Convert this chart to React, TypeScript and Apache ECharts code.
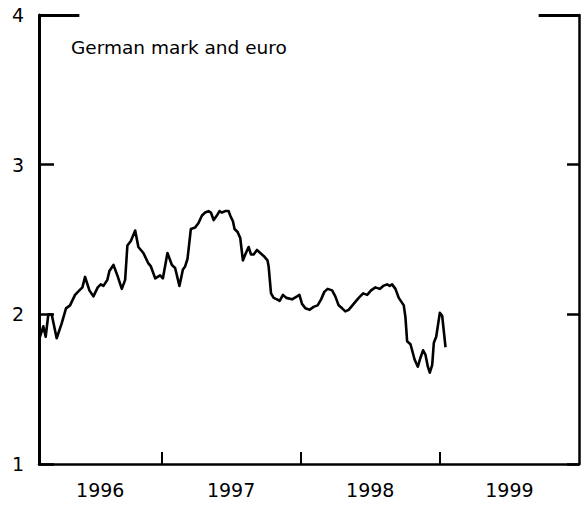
import React, { useEffect, useRef } from "react";
import * as echarts from "echarts";

// Decimal-year dates and exchange-rate values
const dates = [
  1996.120, 1996.151, 1996.168, 1996.187, 1996.211, 1996.247, 1996.283, 1996.314, 1996.343, 1996.379,
  1996.410, 1996.432, 1996.451, 1996.482, 1996.511, 1996.542, 1996.564, 1996.583, 1996.611, 1996.626,
  1996.655, 1996.683, 1996.715, 1996.739, 1996.755, 1996.780, 1996.811, 1996.834, 1996.870, 1996.906,
  1996.924, 1996.955, 1996.990, 1997.010, 1997.043, 1997.075, 1997.098, 1997.129, 1997.154, 1997.170,
  1997.187, 1997.211, 1997.242, 1997.266, 1997.291, 1997.314, 1997.338, 1997.355, 1997.375, 1997.398,
  1997.417, 1997.434, 1997.458, 1997.482, 1997.494, 1997.514, 1997.525, 1997.547, 1997.566, 1997.585,
  1997.602, 1997.626, 1997.643, 1997.662, 1997.686, 1997.710, 1997.734, 1997.762, 1997.770, 1997.787,
  1997.806, 1997.830, 1997.849, 1997.873, 1997.897, 1997.938, 1997.974, 1997.991, 1998.010, 1998.034,
  1998.065, 1998.093, 1998.122, 1998.147, 1998.170, 1998.194, 1998.226, 1998.249, 1998.273, 1998.298,
  1998.321, 1998.345, 1998.381, 1998.417, 1998.449, 1998.478, 1998.506, 1998.537, 1998.568, 1998.593,
  1998.621, 1998.640, 1998.657, 1998.681, 1998.705, 1998.741, 1998.753, 1998.765, 1998.789, 1998.801,
  1998.818, 1998.842, 1998.861, 1998.880, 1998.897, 1998.914, 1998.928, 1998.945, 1998.957, 1998.974,
  1999.000, 1999.017, 1999.041,
];

const rates = [
  1.83, 1.92, 1.85, 2.00, 2.00, 1.84, 1.94, 2.04, 2.06, 2.13,
  2.16, 2.18, 2.25, 2.16, 2.12, 2.18, 2.20, 2.19, 2.23, 2.29,
  2.33, 2.26, 2.17, 2.23, 2.46, 2.49, 2.56, 2.45, 2.41, 2.34,
  2.32, 2.24, 2.26, 2.24, 2.41, 2.33, 2.31, 2.19, 2.30, 2.32,
  2.37, 2.57, 2.58, 2.61, 2.66, 2.68, 2.69, 2.68, 2.63, 2.66,
  2.69, 2.68, 2.69, 2.69, 2.66, 2.62, 2.57, 2.55, 2.51, 2.36,
  2.40, 2.45, 2.40, 2.40, 2.43, 2.41, 2.39, 2.36, 2.32, 2.14,
  2.11, 2.10, 2.09, 2.13, 2.11, 2.10, 2.12, 2.13, 2.07, 2.04,
  2.03, 2.05, 2.06, 2.10, 2.15, 2.17, 2.16, 2.12, 2.06, 2.04,
  2.02, 2.03, 2.07, 2.11, 2.14, 2.13, 2.16, 2.18, 2.17, 2.19,
  2.20, 2.19, 2.20, 2.17, 2.11, 2.06, 1.98, 1.82, 1.80, 1.76,
  1.70, 1.65, 1.71, 1.76, 1.73, 1.65, 1.61, 1.66, 1.81, 1.85,
  2.01, 1.99, 1.78,
];

const yearLabels = [1996, 1997, 1998, 1999];
const yearBoundaries = [1997, 1998, 1999];
const axisStart = 1996.12;
const axisEnd = 2000;
const yMin = 1;
const yMax = 4;
const titleText = "German mark and euro";

export default function App() {
  const ref = useRef<HTMLDivElement | null>(null);

  useEffect(() => {
    if (!ref.current) return;
    const chart = echarts.init(ref.current, null, { renderer: "svg" });
    const font = "DejaVu Sans";
    const labelPositions = yearLabels.map(
      (y) => (Math.max(y, axisStart) + Math.min(y + 1, axisEnd)) / 2
    );
    const bracket = 0.29;

    chart.setOption({
      animation: false,
      backgroundColor: "#ffffff",
      title: {
        text: titleText,
        left: 71,
        top: 38,
        padding: 0,
        textStyle: {
          fontFamily: font,
          fontSize: 18.5,
          fontWeight: "normal",
          color: "#000",
        },
      },
      grid: { left: 39, right: 4, top: 15, bottom: 42, containLabel: false },
      xAxis: {
        type: "value",
        min: axisStart,
        max: axisEnd,
        axisLine: { show: true, onZero: false, lineStyle: { color: "#000", width: 2.5 } },
        axisTick: {
          show: true,
          inside: true,
          length: 12,
          customValues: yearBoundaries,
          lineStyle: { color: "#000", width: 2 },
        },
        axisLabel: {
          show: true,
          customValues: labelPositions,
          formatter: (v: number) => String(Math.floor(v)),
          margin: 16,
          fontFamily: font,
          fontSize: 19,
          color: "#000",
        },
        splitLine: { show: false },
      },
      yAxis: [
        {
          type: "value",
          min: yMin,
          max: yMax,
          interval: 1,
          position: "left",
          axisLine: { show: true, lineStyle: { color: "#000", width: 3 } },
          axisTick: { show: true, inside: true, length: 15, lineStyle: { color: "#000", width: 2.5 } },
          axisLabel: { margin: 15, fontFamily: font, fontSize: 19, color: "#000" },
          splitLine: { show: false },
        },
        {
          type: "value",
          min: yMin,
          max: yMax,
          interval: 1,
          position: "right",
          axisLine: { show: true, lineStyle: { color: "#000", width: 2.5 } },
          axisTick: { show: true, inside: true, length: 12, lineStyle: { color: "#000", width: 2.5 } },
          axisLabel: { show: false },
          splitLine: { show: false },
        },
      ],
      series: [
        {
          type: "line",
          data: dates.map((d, i) => [d, rates[i]]),
          showSymbol: false,
          symbol: "none",
          clip: false,
          lineStyle: { color: "#000", width: 2.6, join: "round" },
          markLine: {
            silent: true,
            symbol: ["none", "none"],
            label: { show: false },
            lineStyle: { color: "#000", width: 3, type: "solid" },
            data: [
              [{ coord: [axisStart, yMax] }, { coord: [axisStart + bracket, yMax] }],
              [{ coord: [axisEnd - bracket, yMax] }, { coord: [axisEnd, yMax] }],
            ],
          },
        },
      ],
    });

    return () => chart.dispose();
  }, []);

  return (
    <div
      ref={ref}
      style={{ position: "absolute", left: 0, top: 0, width: 583, height: 506 }}
    />
  );
}
